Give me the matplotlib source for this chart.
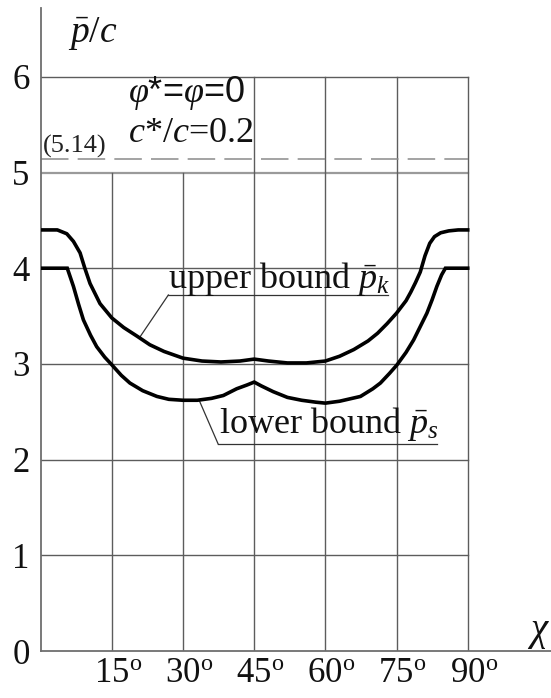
import matplotlib
matplotlib.use("Agg")
import matplotlib.pyplot as plt
import matplotlib.transforms as mtransforms

plt.rcParams["mathtext.fontset"] = "custom"
plt.rcParams["mathtext.rm"] = "Liberation Serif"
plt.rcParams["mathtext.it"] = "Liberation Serif:italic"
plt.rcParams["mathtext.bf"] = "Liberation Serif:bold"
plt.rcParams["font.family"] = ["Liberation Serif", "DejaVu Serif"]

# inclination angle chi (degrees) and normalised limit load p/c
chi_upper = [0, 3.5, 5.5, 6.9, 8.3, 9.3, 10.4, 12.5, 15, 17.5, 20.3, 23, 26, 30,
             34, 38, 42, 45, 48, 52, 56, 60, 63, 66, 69, 71, 73, 75, 77, 78,
             79, 80, 81, 82, 83, 84.3, 86, 88, 90]
p_upper = [4.40, 4.40, 4.36, 4.28, 4.16, 4.00, 3.84, 3.63, 3.48, 3.38, 3.29, 3.20,
           3.13, 3.06, 3.03, 3.02, 3.03, 3.05, 3.03, 3.01, 3.01, 3.03, 3.08, 3.15,
           3.24, 3.32, 3.42, 3.53, 3.66, 3.75, 3.85, 3.96, 4.13, 4.26, 4.33, 4.37,
           4.39, 4.40, 4.40]

chi_lower = [0, 5.6, 6.9, 8, 9, 10.5, 11.8, 13.5, 15, 17, 18.8, 21.5, 24.5, 27, 30,
             33, 36, 38.5, 41.3, 43.5, 45, 46.5, 49, 52, 55, 58, 60, 63, 67.4, 70,
             71.6, 73.5, 75.1, 77, 78.6, 80, 81.4, 82.5, 83.5, 84.5, 85.3, 90]
p_lower = [4.00, 4.00, 3.81, 3.62, 3.46, 3.30, 3.18, 3.07, 2.99, 2.88, 2.80, 2.72,
           2.66, 2.63, 2.62, 2.62, 2.64, 2.67, 2.74, 2.78, 2.81, 2.77, 2.71, 2.65,
           2.62, 2.60, 2.59, 2.61, 2.66, 2.74, 2.80, 2.90, 2.99, 3.12, 3.25, 3.39,
           3.53, 3.67, 3.81, 3.93, 4.00, 4.00]

p_prandtl = 5.14
x_ticks = [15, 30, 45, 60, 75, 90]
y_ticks = [0, 1, 2, 3, 4, 5, 6]

W, H = 551, 698
fig = plt.figure(figsize=(W / 100, H / 100), dpi=100)
ax = fig.add_axes([40.7 / W, 47 / H, (W - 40.7) / W, (651 - 8.3) / H])
ax.set_xlim(0, 90 * (W - 40.7) / (467.7 - 40.7))
ax.set_ylim(0, (651 - 8.3) / 95.7)

grid_c = "#5c5c5c"
for s in ("top", "right"):
    ax.spines[s].set_visible(False)
for s in ("left", "bottom"):
    ax.spines[s].set_color("#6e6e6e")
    ax.spines[s].set_linewidth(1.3)

# grid lines
for y in y_ticks[1:]:
    if y == 5:
        ax.plot([0, 90], [y, y], color="#9a9a9a", lw=1.6, zorder=1)
    else:
        ax.plot([0, 90], [y, y], color=grid_c, lw=1.0, zorder=1)
for x in x_ticks:
    top = 5 if x < 45 else 6
    ax.plot([x, x], [0, top], color=grid_c, lw=1.0, zorder=1)

# Prandtl solution
ax.plot([0, 90], [p_prandtl, p_prandtl], color="#8a8a8a", lw=1.1,
        dashes=[18, 6], zorder=1)
ax.text(0.5, 5.21, "(%.2f)" % p_prandtl, fontsize=19, ha="left", va="baseline",
        color="#222222")

# bounds
ax.plot(chi_upper, p_upper, color="black", lw=2.6, zorder=3,
        solid_joinstyle="round")
ax.plot(chi_lower, p_lower, color="black", lw=2.6, zorder=3,
        solid_joinstyle="miter")

# labels with leader lines
lc = "#333333"
ax.plot([26.9, 73.3], [3.72, 3.72], color=lc, lw=0.9, zorder=2)
ax.plot([26.9, 20.9], [3.72, 3.28], color=lc, lw=0.9, zorder=2)
ax.text(26.9, 3.79, r"upper bound $\bar{p}_k$", fontsize=26, ha="left",
        va="baseline", color="#111111")

ax.plot([37.4, 83.6], [2.163, 2.163], color=lc, lw=0.9, zorder=2)
ax.plot([37.4, 33.4], [2.163, 2.62], color=lc, lw=0.9, zorder=2)
ax.text(37.5, 2.275, r"lower bound $\bar{p}_s$", fontsize=26, ha="left",
        va="baseline", color="#111111")

# parameters
ax.text(18.5, 5.74, r"$\varphi$*=$\varphi$=0", fontsize=26, ha="left",
        va="baseline", family="Liberation Sans", color="#111111")
ax.text(18.5, 5.32, r"$c$*/$c$=0.2", fontsize=26, ha="left", va="baseline",
        color="#111111")

# axis titles
ax.text(5.7, 6.367, r"$\bar{p}/c$", fontsize=27, ha="left", va="baseline",
        color="#111111")
ax.text(102.5, 0.12, r"$\chi$", fontsize=28, ha="left", va="baseline",
        color="#111111")

# ticks
ax.set_yticks(y_ticks)
ax.set_yticklabels([str(v) for v in y_ticks], fontsize=25)
ax.set_xticks(x_ticks)
ax.set_xticklabels([r"%d$^{\rm o}$" % v for v in x_ticks], fontsize=25)
ax.tick_params(axis="both", length=0, colors="#111111")
ax.tick_params(axis="y", pad=8)
ax.tick_params(axis="x", pad=4)
shift = mtransforms.ScaledTranslation(6 / 100, 0, fig.dpi_scale_trans)
for lab in ax.get_xticklabels():
    lab.set_transform(lab.get_transform() + shift)

fig.savefig("out.png", dpi=100)
